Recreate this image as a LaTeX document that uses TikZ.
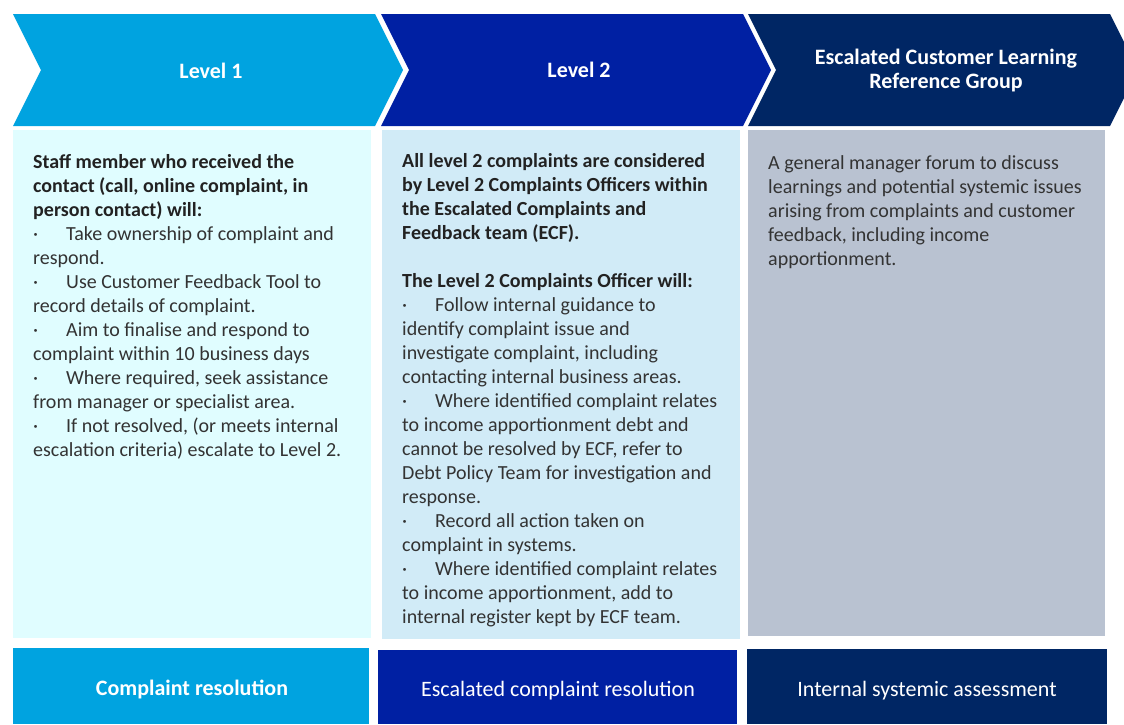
\documentclass[tikz,border=0pt]{standalone}
\usepackage{fontspec}
\setmainfont{Carlito}
\begin{document}
\begin{tikzpicture}[x=1pt,y=-1pt,
  headtxt/.style={text=white,font=\bfseries\fontsize{22}{24}\selectfont,align=center,inner sep=0pt},
  bodytxt/.style={text=bodygray,font=\fontsize{20}{24}\selectfont,align=left,anchor=north west,inner sep=0pt},
  foottxt/.style={text=white,font=\fontsize{22}{24}\selectfont,inner sep=0pt},
]
\definecolor{lvone}{HTML}{00A3E0}
\definecolor{lvtwo}{HTML}{0020A3}
\definecolor{lvthree}{HTML}{002664}
\definecolor{boxone}{HTML}{E0FDFF}
\definecolor{boxtwo}{HTML}{D1EBF7}
\definecolor{boxthree}{HTML}{B9C2D1}
\definecolor{bodygray}{HTML}{333333}
\definecolor{boldgray}{HTML}{222222}

\clip (0,0) rectangle (1124,724);
\fill[white] (0,0) rectangle (1124,724);

% header chevrons
\fill[lvone]   (13,14) -- (375,14) -- (403,70) -- (375,126) -- (13,126) -- (41,70) -- cycle;
\fill[lvtwo]   (381,14) -- (743,14) -- (771,70) -- (743,126) -- (381,126) -- (409,70) -- cycle;
\fill[lvthree] (748,14) -- (1110,14) -- (1138,70) -- (1110,126) -- (748,126) -- (776,70) -- cycle;

\node[headtxt] (h1) at (211,71) {Level 1};
\node[headtxt] (h2) at (579,70) {Level 2};
\node[headtxt] (h3) at (946,71) {Escalated Customer Learning\\Reference Group};

% description panels
\fill[boxone]   (13,130) rectangle (371,638);
\fill[boxtwo]   (382,130) rectangle (740,639);
\fill[boxthree] (748,130) rectangle (1105,636);

\node[bodytxt] (b1) at (33,154) {%
{\bfseries\color{boldgray}Staff member who received the}\\
{\bfseries\color{boldgray}contact (call, online complaint, in}\\
{\bfseries\color{boldgray}person contact) will:}\\
\makebox[33pt][l]{·}Take ownership of complaint and\\
respond.\\
\makebox[33pt][l]{·}Use Customer Feedback Tool to\\
record details of complaint.\\
\makebox[33pt][l]{·}Aim to finalise and respond to\\
complaint within 10 business days\\
\makebox[33pt][l]{·}Where required, seek assistance\\
from manager or specialist area.\\
\makebox[33pt][l]{·}If not resolved, (or meets internal\\
escalation criteria) escalate to Level 2.};

\node[bodytxt] (b2) at (402,153) {%
{\bfseries\color{boldgray}All level 2 complaints are considered}\\
{\bfseries\color{boldgray}by Level 2 Complaints Officers within}\\
{\bfseries\color{boldgray}the Escalated Complaints and}\\
{\bfseries\color{boldgray}Feedback team (ECF).}\\[24pt]
{\bfseries\color{boldgray}The Level 2 Complaints Officer will:}\\
\makebox[33pt][l]{·}Follow internal guidance to\\
identify complaint issue and\\
investigate complaint, including\\
contacting internal business areas.\\
\makebox[33pt][l]{·}Where identified complaint relates\\
to income apportionment debt and\\
cannot be resolved by ECF, refer to\\
Debt Policy Team for investigation and\\
response.\\
\makebox[33pt][l]{·}Record all action taken on\\
complaint in systems.\\
\makebox[33pt][l]{·}Where identified complaint relates\\
to income apportionment, add to\\
internal register kept by ECF team.};

\node[bodytxt] (b3) at (768,155) {%
A general manager forum to discuss\\
learnings and potential systemic issues\\
arising from complaints and customer\\
feedback, including income\\
apportionment.};

% outcome bars
\fill[lvone]   (13,648) rectangle (369,724);
\fill[lvtwo]   (378,650) rectangle (737,724);
\fill[lvthree] (747,649) rectangle (1107,724);

\node[foottxt,font=\bfseries\fontsize{22}{24}\selectfont] (f1) at (192,689) {Complaint resolution};
\node[foottxt] (f2) at (558,691) {Escalated complaint resolution};
\node[foottxt] (f3) at (927,691) {Internal systemic assessment};
\end{tikzpicture}
\end{document}
